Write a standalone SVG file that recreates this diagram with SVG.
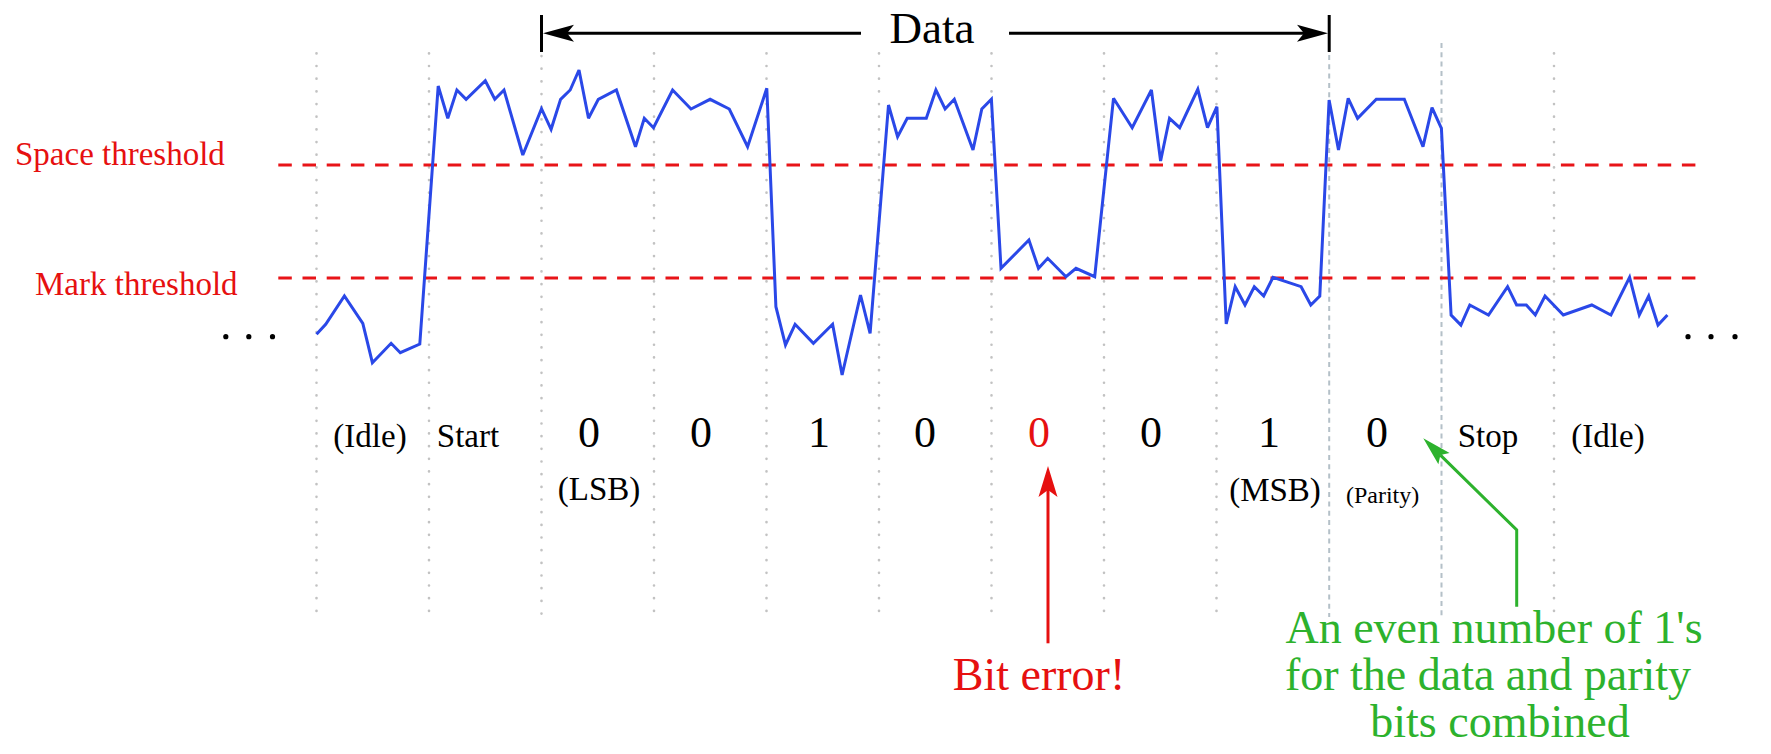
<svg xmlns="http://www.w3.org/2000/svg" width="1771" height="754" viewBox="0 0 1771 754">
<style>
  text { font-family: "Liberation Serif", "Times New Roman", serif; }
  .lbl { font-size: 33px; fill: #000; text-anchor: middle; }
  .dig { font-size: 44px; fill: #000; text-anchor: middle; }
  .red { fill: #e61010; }
  .grn { fill: #2db22d; font-size: 46px; text-anchor: middle; }
  .dot { stroke: #c2c2c2; stroke-width: 2.6; stroke-linecap: round; stroke-dasharray: 0.1 12.57; fill: none; }
  .dsh { stroke: #b4c0c8; stroke-width: 2; stroke-dasharray: 5 4.3; fill: none; }
  .thr { stroke: #e81418; stroke-width: 3; stroke-dasharray: 13.5 10.7; fill: none; }
  .sig { stroke: #2a48e8; stroke-width: 3; fill: none; stroke-linejoin: miter; stroke-miterlimit: 3; }
</style>
<defs>
  <marker id="ah-k" viewBox="-8 -10 34 20" markerWidth="34" markerHeight="20" refX="0" refY="0" orient="auto" markerUnits="userSpaceOnUse">
    <path d="M24,0 L-7,-8.5 L0,0 L-7,8.5 Z" fill="#000"/>
  </marker>
  <marker id="ah-r" viewBox="-8 -11 34 22" markerWidth="34" markerHeight="22" refX="0" refY="0" orient="auto" markerUnits="userSpaceOnUse">
    <path d="M24,0 L-7,-9.5 L0,0 L-7,9.5 Z" fill="#e61010"/>
  </marker>
  <marker id="ah-g" viewBox="-8 -10 34 20" markerWidth="34" markerHeight="20" refX="0" refY="0" orient="auto" markerUnits="userSpaceOnUse">
    <path d="M24,0 L-5,-8 L0,0 L-5,8 Z" fill="#2db22d"/>
  </marker>
</defs>
<rect width="1771" height="754" fill="#fff"/>

<g id="grid">
  <line class="dot" x1="316.5" y1="53.3" x2="316.5" y2="617"/>
  <line class="dot" x1="429" y1="53.3" x2="429" y2="617"/>
  <line class="dot" x1="541.5" y1="56" x2="541.5" y2="617"/>
  <line class="dot" x1="654" y1="53.3" x2="654" y2="617"/>
  <line class="dot" x1="766.5" y1="53.3" x2="766.5" y2="617"/>
  <line class="dot" x1="879" y1="53.3" x2="879" y2="617"/>
  <line class="dot" x1="991.5" y1="53.3" x2="991.5" y2="617"/>
  <line class="dot" x1="1104" y1="53.3" x2="1104" y2="617"/>
  <line class="dot" x1="1216.5" y1="53.3" x2="1216.5" y2="617"/>
  <line class="dsh" x1="1329.2" y1="55" x2="1329.2" y2="617"/>
  <line class="dsh" x1="1441.5" y1="43" x2="1441.5" y2="617"/>
  <line class="dot" x1="1554" y1="53.3" x2="1554" y2="617"/>
</g>

<g id="thresholds">
  <line class="thr" x1="278.3" y1="165" x2="1706" y2="165"/>
  <line class="thr" x1="278.3" y1="278" x2="1706" y2="278"/>
  <text x="15" y="165" font-size="33" class="red">Space threshold</text>
  <text x="35" y="295" font-size="33" class="red">Mark threshold</text>
</g>

<g id="signal">
  <polyline class="sig" points="316.5,334.3 325.7,324.3 344.4,296 362.8,323.3 372.4,362.7 391.1,343.3 400.3,352.7 419.8,344 438.2,86 447.8,118.3 456.9,90 466.1,99.3 485.3,80.7 494.8,99.3 504,90 522.8,155 541.5,108.7 551.1,129.3 560.6,99.3 570.2,90 579,70 588.5,118.3 598.3,99.3 616.4,90 635.5,146.7 644.3,118.3 653.5,127.7 672.6,90 691,109 710.1,99.3 729.3,109 747.6,146.7 766.8,88.3 775.9,306.7 785.5,345 795.1,324.3 813.4,343.3 832.6,324.3 842.1,375 860.5,295 870.1,333.3 888.5,105 897.6,136.7 907.2,118.3 926.3,118.3 935.9,90 945.1,109 954.3,99.3 973,150 981.8,109 991.4,99.3 1001,268.3 1028.9,240 1038.5,268.3 1047.7,258.3 1066,276.7 1076,268.3 1094.7,276.7 1113.5,98.3 1132.2,127.7 1151.4,90 1160.6,161 1169.5,118.3 1179.7,127.7 1197.8,89.3 1207.5,127.7 1216.9,106.7 1226.2,324 1235.2,286.7 1245,305 1254.3,286.7 1263.7,296 1273,277.3 1301.1,286.7 1310.8,305 1319.8,296 1329.1,100 1338.5,150 1348.2,98.3 1357.6,118.3 1376.3,99.3 1404.3,99.3 1423,146.7 1432,107.7 1441.4,128.3 1451.1,315 1460.9,325 1469.8,305 1488.5,315 1507.6,286.7 1516.6,305 1526.3,305 1535.3,315 1545,296 1563.3,315 1591.8,305 1610.9,315 1629.6,277.3 1639.3,315 1648.7,296 1658,325 1667.4,315"/>
  <g fill="#000">
    <circle cx="225.8" cy="336.7" r="2.6"/>
    <circle cx="248.8" cy="336.7" r="2.6"/>
    <circle cx="272.5" cy="336.7" r="2.6"/>
    <circle cx="1688" cy="336.7" r="2.6"/>
    <circle cx="1711" cy="336.7" r="2.6"/>
    <circle cx="1735" cy="336.7" r="2.6"/>
  </g>
</g>

<g id="data-bracket">
  <line x1="541.5" y1="15" x2="541.5" y2="52" stroke="#000" stroke-width="3"/>
  <line x1="1329.2" y1="15" x2="1329.2" y2="52" stroke="#000" stroke-width="3"/>
  <text x="932" y="43" font-size="45" text-anchor="middle" fill="#000">Data</text>
</g>

<g id="labels">
  <text class="lbl" x="370" y="446.7">(Idle)</text>
  <text class="lbl" x="468" y="446.7">Start</text>
  <text class="dig" x="589" y="447">0</text>
  <text class="dig" x="701" y="447">0</text>
  <text class="dig" x="819" y="447">1</text>
  <text class="dig" x="925" y="447">0</text>
  <text class="dig red" x="1039" y="447">0</text>
  <text class="dig" x="1151" y="447">0</text>
  <text class="dig" x="1269" y="447">1</text>
  <text class="dig" x="1377" y="447">0</text>
  <text class="lbl" x="1488" y="446.7">Stop</text>
  <text class="lbl" x="1608" y="446.7">(Idle)</text>
  <text class="lbl" x="599" y="500">(LSB)</text>
  <text class="lbl" x="1275" y="501">(MSB)</text>
  <text x="1382.6" y="503" font-size="24" text-anchor="middle" fill="#000">(Parity)</text>
</g>

<g id="bit-error">
  <text x="1039" y="690" font-size="46" text-anchor="middle" class="red">Bit error!</text>
</g>

<g id="parity-note">
  <text class="grn" x="1494" y="643">An even number of 1's</text>
  <text class="grn" x="1488" y="690">for the data and parity</text>
  <text class="grn" x="1500" y="737">bits combined</text>
</g>

<g id="connectors" fill="none">
  <line x1="861" y1="33.3" x2="567" y2="33.3" stroke="#000" stroke-width="3" marker-end="url(#ah-k)"/>
  <line x1="1009" y1="33.3" x2="1304" y2="33.3" stroke="#000" stroke-width="3" marker-end="url(#ah-k)"/>
  <line x1="1048" y1="643.3" x2="1048" y2="490" stroke="#e61010" stroke-width="3" marker-end="url(#ah-r)"/>
  <polyline points="1516.7,606.7 1516.7,530 1440.4,455.1" stroke="#2db22d" stroke-width="3" marker-end="url(#ah-g)"/>
</g>
</svg>
